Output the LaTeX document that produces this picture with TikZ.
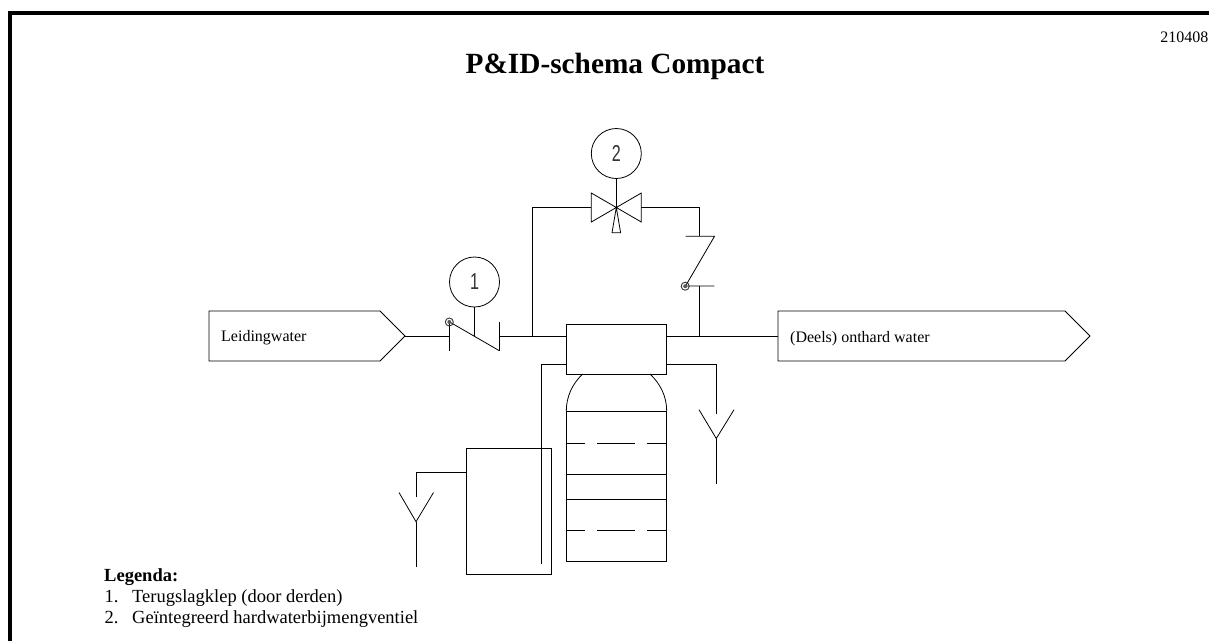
\documentclass[tikz,border=0pt]{standalone}
\usepackage{fontspec}
\setmainfont{Liberation Serif}
\newfontfamily\cadfont{Liberation Sans}
\tikzset{
  x=1pt,y=-1pt,
  pipe/.style={draw=black,line width=0.8pt},
  sym/.style={draw=black,line width=0.8pt},
  flag/.style={draw=black,line width=0.8pt},
  bubble/.style={circle,draw=black,line width=0.8pt,minimum size=50pt,inner sep=0pt,text=black!80,font=\cadfont\fontsize{23}{25}\selectfont\addfontfeatures{FakeStretch=0.7}},
  lbl/.style={anchor=base west,inner sep=0pt,font=\fontsize{16}{18}\selectfont},
  leg/.style={anchor=base west,inner sep=0pt,font=\fontsize{18.5}{21}\selectfont},
  rg/.style={circle,draw=black!80,line width=0.9pt,minimum size=8pt,inner sep=0pt,
    path picture={\fill[black!65] (path picture bounding box.center) circle (2pt);}}
}
\begin{document}
\begin{tikzpicture}
\useasboundingbox (0,0) rectangle (1209,641);
\fill[white] (0,0) rectangle (1209,641);
% frame
\coordinate (f0) at (10.3,641); \coordinate (f1) at (10.3,13.3); \coordinate (f2) at (1209,13.3);
\draw[black,line width=4pt] (f0) -- (f1) -- (f2);
% titles
\node[anchor=base,inner sep=0pt,font=\bfseries\fontsize{29.3}{34}\selectfont] (title) at (615,73) {P\&ID-schema Compact};
\node[anchor=base east,inner sep=0pt,font=\fontsize{16}{18}\selectfont] (stamp) at (1208.5,42) {210408};
% boundary flags
\draw[flag] (209,311) -- (380,311) -- (405,336) -- (380,361) -- (209,361) -- cycle;
\coordinate (inP) at (405,336);
\node[lbl] (inL) at (221,341) {Leidingwater};
\draw[flag] (778,311) -- (1065,311) -- (1090,336) -- (1065,361) -- (778,361) -- cycle;
\coordinate (outP) at (778,336);
\node[lbl] (outL) at (790,342) {(Deels) onthard water};
% control unit
\node[draw=black,line width=0.8pt,minimum width=100.5pt,minimum height=50pt,inner sep=0pt,outer sep=0pt,anchor=north west] (unit) at (566.3,324) {};
% check valve 1
\coordinate (cvA) at (449.7,336); \coordinate (cvB) at (499.3,336);
\draw[sym] (449.7,322) -- (449.7,350.7);
\draw[sym] (499.3,322) -- (499.3,350.7);
\draw[sym] (449.7,322) -- (499.3,350.7);
\node[rg] (g1) at (449.3,322) {};
\node[bubble] (b1) at (474.5,282) {1};
\coordinate (s1) at (474.5,336.3);
\draw[sym] (b1) -- (s1);
\draw[pipe] (inP) -- (cvA);
\draw[pipe] (cvB) -- (unit.west |- cvB);
\draw[pipe] (unit.east |- cvB) -- (outP);
% three way valve 2
\coordinate (vc) at (616.3,207.5);
\draw[sym] (vc) -- (591.3,193) -- (591.3,222) -- cycle;
\draw[sym] (vc) -- (641.3,193) -- (641.3,222) -- cycle;
\draw[sym] (vc) -- (612,232.7) -- (620.6,232.7) -- cycle;
\node[bubble] (b2) at (616.3,153.5) {2};
\draw[sym] (b2) -- (vc);
% bypass
\coordinate (tL) at (532.7,336);
\coordinate (tR) at (699.7,336);
\draw[pipe] (tL) -- (532.7,207.5) -- (591.3,207.5);
\draw[pipe] (641.3,207.5) -- (699.7,207.5) -- (699.7,236.3);
% check valve bypass
\draw[sym] (685.7,236.3) -- (714.5,236.3) -- (685.5,286) -- (714.3,286);
\node[rg] (g2) at (685.2,286.2) {};
\draw[pipe] (699.7,286) -- (tR);
% vessel
\draw[sym] (582.7,374) .. controls (572,384) and (566.3,397) .. (566.3,411);
\draw[sym] (650,374) .. controls (660.7,384) and (666.7,397) .. (666.7,411);
\draw[pipe] (566.3,411) rectangle (666.7,561.7);
\foreach \yy in {411,474.5,499.5} {\draw[sym] (566.3,\yy) -- (666.7,\yy);}
\foreach \yy in {443,530.5} {\draw[sym] (566.3,\yy) -- (585,\yy) (597.3,\yy) -- (635,\yy) (647.3,\yy) -- (666.7,\yy);}
% drain right
\coordinate (rT) at (716.3,364);
\draw[pipe] (unit.east |- rT) -- (rT) -- (716.3,414);
\draw[sym] (699,409.7) -- (716.3,438.5) -- (734,409.7);
\draw[pipe] (716.3,438.5) -- (716.3,484);
% brine tank
\draw[pipe] (466,448.7) rectangle (551.3,574.3);
\draw[pipe] (unit.west |- rT) -- (541,364) -- (541,563.5);
% drain left
\draw[pipe] (466,472) -- (416,472) -- (416,497);
\draw[sym] (399,492.5) -- (416,521.7) -- (433.5,492.5);
\draw[pipe] (416,521.7) -- (416,567);
% legend
\node[leg,font=\bfseries\fontsize{18.5}{21}\selectfont] (lg) at (104,581.7) {Legenda:};
\node[leg] (l1n) at (104.5,602.7) {1.};
\node[leg] (l1) at (132,602.7) {Terugslagklep (door derden)};
\node[leg] (l2n) at (104.5,623.5) {2.};
\node[leg] (l2) at (132,623.5) {Geïntegreerd hardwaterbijmengventiel};
\end{tikzpicture}
\end{document}
